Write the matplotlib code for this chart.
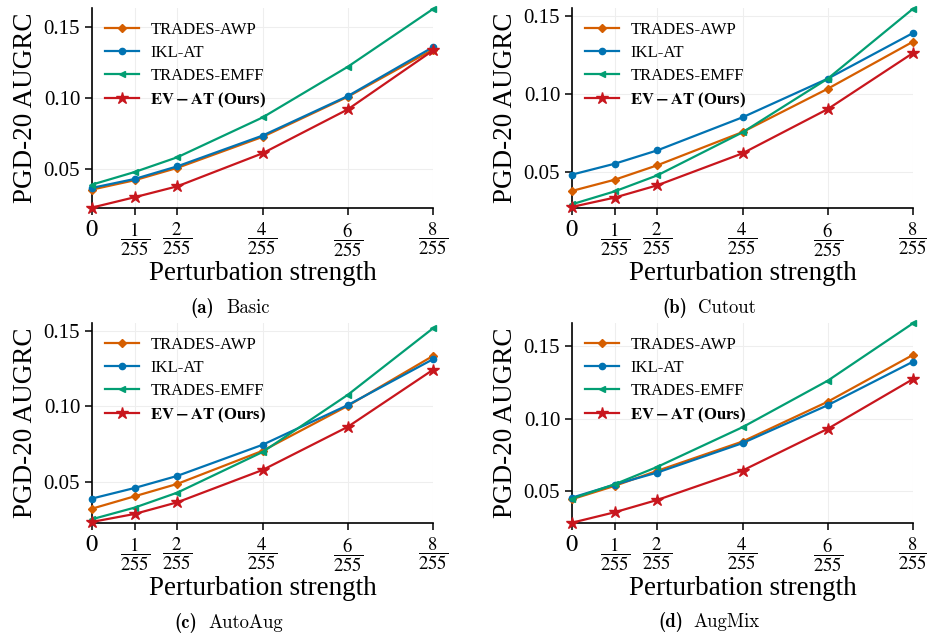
import matplotlib
matplotlib.use("Agg")
import matplotlib.pyplot as plt
import numpy as np

plt.rcParams["font.family"] = ["Liberation Serif", "DejaVu Serif"]
plt.rcParams["mathtext.fontset"] = "stix"

# Perturbation strengths (in units of 1/255)
eps = [0, 1, 2, 4, 6, 8]
eps_labels = ["$0$", r"$\dfrac{1}{255}$", r"$\dfrac{2}{255}$", r"$\dfrac{4}{255}$",
              r"$\dfrac{6}{255}$", r"$\dfrac{8}{255}$"]

methods = ["TRADES-AWP", "IKL-AT", "TRADES-EMFF", "EV-AT"]
legend_labels = ["TRADES-AWP", "IKL-AT", "TRADES-EMFF", r"$\mathbf{EV-AT}$ (Ours)"]
colors = ["#d55e00", "#0173b2", "#029e73", "#c8161d"]
markers = ["D", "o", "<", "*"]
marker_sizes = [4, 4.5, 5, 9]

# PGD-20 AUGRC per augmentation setting
basic_awp = [0.0352, 0.0418, 0.0505, 0.0724, 0.1007, 0.1341]
basic_ikl = [0.0364, 0.0427, 0.0516, 0.0733, 0.1012, 0.1358]
basic_emff = [0.0387, 0.0476, 0.0580, 0.0861, 0.1219, 0.1627]
basic_ev = [0.0225, 0.0298, 0.0375, 0.0608, 0.0918, 0.1334]

cutout_awp = [0.0376, 0.0448, 0.0541, 0.0755, 0.1034, 0.1337]
cutout_ikl = [0.0481, 0.0551, 0.0637, 0.0850, 0.1099, 0.1393]
cutout_emff = [0.0290, 0.0373, 0.0476, 0.0753, 0.1099, 0.1549]
cutout_ev = [0.0273, 0.0333, 0.0412, 0.0618, 0.0903, 0.1264]

autoaug_awp = [0.0323, 0.0405, 0.0487, 0.0706, 0.1004, 0.1335]
autoaug_ikl = [0.0390, 0.0460, 0.0540, 0.0746, 0.1009, 0.1313]
autoaug_emff = [0.0253, 0.0330, 0.0429, 0.0698, 0.1077, 0.1518]
autoaug_ev = [0.0235, 0.0288, 0.0365, 0.0579, 0.0865, 0.1243]

augmix_awp = [0.0445, 0.0537, 0.0641, 0.0843, 0.1118, 0.1441]
augmix_ikl = [0.0456, 0.0546, 0.0629, 0.0832, 0.1094, 0.1394]
augmix_emff = [0.0449, 0.0548, 0.0668, 0.0942, 0.1263, 0.1659]
augmix_ev = [0.0283, 0.0355, 0.0440, 0.0643, 0.0931, 0.1274]

panels = [
    ("(a)", "Basic", [basic_awp, basic_ikl, basic_emff, basic_ev], (0.0222, 0.1634)),
    ("(b)", "Cutout", [cutout_awp, cutout_ikl, cutout_emff, cutout_ev], (0.0266, 0.1554)),
    ("(c)", "AutoAug", [autoaug_awp, autoaug_ikl, autoaug_emff, autoaug_ev], (0.0228, 0.1553)),
    ("(d)", "AugMix", [augmix_awp, augmix_ikl, augmix_emff, augmix_ev], (0.0281, 0.1661)),
]

W, H = 927, 633
fig = plt.figure(figsize=(W / 100, H / 100), dpi=100)

# axes boxes in pixels: left, top, right, bottom
boxes = [(92, 8, 433, 208), (572, 8, 913, 208), (92, 323, 433, 523), (572, 323, 913, 523)]
# caption positions: end of tag, start of name, centre y
captions = [(214, 226, 308), (687, 698, 308), (197, 208, 623), (683, 693, 622)]

for (tag, name, series, ylim), (l, t, r, b), (cx0, cx1, cy) in zip(panels, boxes, captions):
    ax = fig.add_axes([l / W, 1 - b / H, (r - l) / W, (b - t) / H])
    for vals, lab, c, m, ms in zip(series, legend_labels, colors, markers, marker_sizes):
        ax.plot(eps, vals, color=c, marker=m, markersize=ms, linewidth=1.6,
                label=lab, clip_on=False, zorder=3)
    ax.set_xlim(0, 8)
    ax.set_ylim(*ylim)
    ax.set_xticks(eps)
    ax.set_xticklabels(eps_labels, fontsize=13.5)
    ax.get_xticklabels()[0].set_fontsize(17.5)
    ax.set_yticks([0.05, 0.10, 0.15])
    ax.set_yticklabels(["0.05", "0.10", "0.15"], fontsize=15)
    ax.tick_params(direction="out", length=5, width=1.1, colors="black")
    ax.grid(True, color="#eeeeee", linewidth=0.8, zorder=0)
    ax.set_axisbelow(True)
    for s in ["top", "right"]:
        ax.spines[s].set_visible(False)
    for s in ["left", "bottom"]:
        ax.spines[s].set_linewidth(1.2)
    ax.set_xlabel("Perturbation strength", fontsize=19.5, labelpad=2)
    ax.set_ylabel("PGD-20 AUGRC", fontsize=19.5, labelpad=4)
    leg = ax.legend(loc="upper left", frameon=False, fontsize=12, handlelength=2.0,
                    borderaxespad=0.0, labelspacing=0.42, handletextpad=0.7,
                    bbox_to_anchor=(0.02, 0.965))
    leg.get_texts()[3].set_fontweight("bold")
    fig.text(cx0 / W, 1 - cy / H, tag, family="cmb10", fontsize=13.5,
             ha="right", va="center")
    fig.text(cx1 / W, 1 - cy / H, name, family="cmr10", fontsize=13.5,
             ha="left", va="center")

fig.savefig("out.png", dpi=100)
